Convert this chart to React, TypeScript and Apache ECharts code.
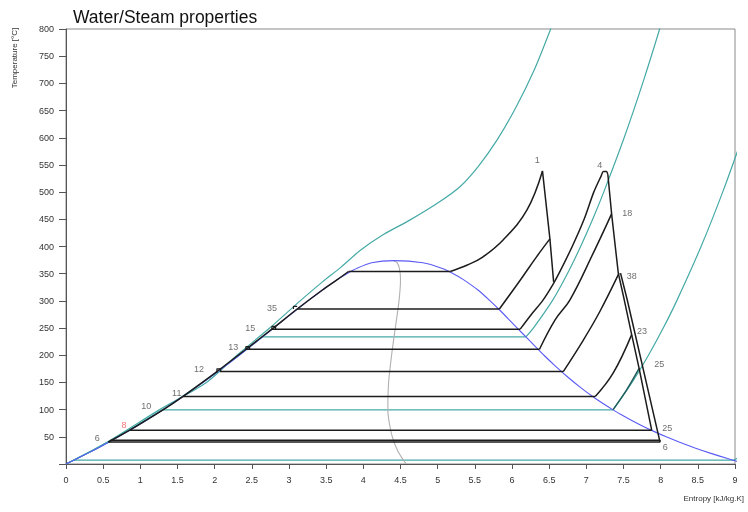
import React, { useEffect, useRef } from "react";
import * as echarts from "echarts";

// ---------- saturation dome (steam tables) ----------
const satT = [0.01, 5, 10, 20, 30, 40, 50, 60, 70, 80, 90, 100, 120, 140, 160, 180, 200, 220, 240, 260, 280, 300, 320, 340, 350, 360, 370, 373.95];
const satSf = [0, 0.0763, 0.1511, 0.2965, 0.4368, 0.5724, 0.7038, 0.8313, 0.9551, 1.0756, 1.1929, 1.3072, 1.5279, 1.7392, 1.9426, 2.1392, 2.3305, 2.5177, 2.702, 2.8849, 3.0685, 3.2552, 3.4494, 3.6601, 3.7784, 3.9167, 4.1112, 4.407];
const satSg = [9.1556, 9.0249, 8.8999, 8.6661, 8.452, 8.2557, 8.0748, 7.9081, 7.754, 7.6111, 7.4781, 7.3542, 7.1277, 6.9284, 6.7491, 6.5841, 6.4302, 6.2854, 6.1423, 5.9989, 5.8571, 5.7059, 5.5423, 5.3359, 5.2109, 5.0536, 4.8012, 4.407];

// quality x = 0.5 line
const qualityHalf = [[4.578, 0.01], [4.55, 5], [4.46, 25], [4.39, 50], [4.35, 75], [4.33, 100], [4.34, 150], [4.38, 200], [4.43, 250], [4.48, 300], [4.5, 340], [4.485, 360], [4.456, 370], [4.407, 373.95]];

// ---------- isobars (teal) ----------
const isobarSuper = [[0, 0], [0.55, 40], [1.26, 100], [1.89, 150], [2.3, 200], [2.74, 250], [3.15, 300], [3.45, 335], [3.7, 362], [3.96, 393], [4.27, 422], [4.63, 449], [4.99, 479], [5.3, 510], [5.55, 548], [5.8, 596], [6.05, 655], [6.3, 725], [6.52, 800], [6.53, 806]];
const isobar30Liquid = [[0, 0], [0.57, 40], [1.3, 100], [1.94, 160], [2.33, 200], [2.645, 233.9]];
const isobar30Sat = [[2.645, 233.9], [6.186, 233.9]];
const isobar30Vapor = [[6.186, 233.9], [6.2872, 250], [6.5412, 300], [6.7449, 350], [6.9233, 400], [7.0853, 450], [7.2338, 500], [7.5085, 600], [7.7571, 700], [7.9862, 800], [7.99, 805]];
const isobar1Liquid = [[0, 0], [0.57, 40], [1.3026, 99.6]];
const isobar1Sat = [[1.3026, 99.6], [7.3589, 99.6]];
const isobar1Vapor = [[7.3589, 99.6], [7.6148, 150], [7.8356, 200], [8.0346, 250], [8.2158, 300], [8.5435, 400], [8.8342, 500], [9.0976, 600]];
const isobar001 = [[0.1059, 6.97], [8.9749, 6.97], [9.05, 12]];

// ---------- cycle (black) ----------
const feedLine = [[0.57, 40.5], [0.84, 61], [1.31, 100], [1.57, 124], [2.03, 170], [2.42, 211], [2.77, 248], [3.11, 285], [3.45, 320], [3.66, 340], [3.8, 354]];
const satLines = [
  [[3.8, 354], [5.17, 354]],
  [[3.11, 285], [5.83, 285]],
  [[2.77, 248], [6.11, 248]],
  [[2.42, 211], [6.37, 211]],
  [[2.07, 170], [6.69, 170]],
  [[1.57, 124], [7.12, 124]],
  [[0.86, 62], [7.88, 62]],
];
const condenser = [[0.6, 43.5], [7.99, 43.5], [7.99, 40.5], [0.57, 40.5]];
const sup354 = [[5.17, 354], [5.4, 366], [5.6, 380], [5.88, 412], [6.2, 467], [6.41, 539]];
const sup285 = [[5.83, 285], [6.11, 338], [6.33, 381], [6.51, 414]];
const sup248 = [[6.11, 248], [6.26, 275], [6.41, 300], [6.55, 330], [6.63, 350], [6.81, 400], [6.97, 450], [7.1, 500], [7.2, 530], [7.23, 538], [7.27, 538], [7.29, 532]];
const sup211 = [[6.37, 211], [6.58, 265], [6.78, 302], [7.09, 387], [7.34, 460]];
const sup170 = [[6.69, 170], [6.96, 228], [7.18, 280], [7.44, 351]];
const sup124 = [[7.12, 124], [7.36, 167], [7.61, 238]];
const ext100 = [[7.36, 100], [7.54, 136], [7.71, 176]];
const turbineHP = [[6.41, 539], [6.51, 414], [6.56, 335]];
const turbineIP = [[7.29, 532], [7.34, 460], [7.43, 351]];
const turbineLPa = [[7.43, 351], [7.51, 302], [7.61, 238], [7.71, 176], [7.88, 62]];
const turbineLPb = [[7.46, 351], [7.55, 302], [7.99, 41]];
const steps = [
  [[2.03, 168], [2.03, 175], [2.08, 175], [2.08, 170]],
  [[2.42, 211], [2.42, 216], [2.47, 216], [2.47, 211]],
  [[2.77, 248], [2.77, 253], [2.82, 253], [2.82, 248]],
  [[3.06, 285], [3.06, 290], [3.11, 290]],
];

// ---------- state labels ----------
const pointNames = ["1", "4", "18", "38", "23", "25", "25", "6", "6", "8", "10", "11", "12", "13", "15", "35"];
const pointS = [6.34, 7.18, 7.55, 7.61, 7.75, 7.98, 8.09, 8.06, 0.42, 0.78, 1.08, 1.49, 1.79, 2.25, 2.48, 2.77];
const pointT = [559, 550, 462, 346, 245, 184, 66, 31, 48, 72, 107, 131, 175, 215, 250, 287];

const FONT = "Arial, 'Liberation Sans', sans-serif";

function line(data: number[][], color: string, width: number, z: number, smooth: number = 0) {
  return {
    type: "line",
    data,
    symbol: "none",
    silent: true,
    clip: true,
    smooth,
    lineStyle: { color, width },
    z,
  };
}

export default function App() {
  const ref = useRef<HTMLDivElement>(null);
  useEffect(() => {
    if (!ref.current) return;
    const chart = echarts.init(ref.current, undefined, { renderer: "svg" });
    const dome: number[][] = [];
    satT.forEach((t, i) => dome.push([satSf[i], t]));
    for (let i = satT.length - 2; i >= 0; i--) dome.push([satSg[i], satT[i]]);

    const teal = "#45aaa6";
    const black = "#1c1c1c";
    const W = 1.5;
    const series: any[] = [
      line(isobarSuper, teal, 1.2, 2, 0.25),
      line(isobar30Liquid, teal, 1.2, 2, 0.3),
      line(isobar30Sat, teal, 1.2, 2),
      line(isobar30Vapor, teal, 1.2, 2, 0.3),
      line(isobar1Liquid, teal, 1.2, 2, 0.3),
      line(isobar1Sat, teal, 1.2, 2),
      line(isobar1Vapor, teal, 1.2, 2, 0.3),
      line(isobar001, teal, 1.2, 2),
      line(qualityHalf, "#b0b0b0", 1.1, 3, 0.3),
      line(dome, "#5a5af5", 1.1, 4, 0.2),
      line(feedLine, black, W, 5, 0.2),
      ...satLines.map((d) => line(d, black, W, 5)),
      line(condenser, black, W, 5),
      line(sup354, black, W, 5, 0.4),
      line(sup285, black, W, 5, 0.4),
      line(sup248, black, W, 5, 0.3),
      line(sup211, black, W, 5, 0.4),
      line(sup170, black, W, 5, 0.4),
      line(sup124, black, W, 5, 0.4),
      line(ext100, "#235f5c", W, 5, 0.3),
      line(turbineHP, black, W, 5),
      line(turbineIP, black, W, 5),
      line(turbineLPa, black, W, 5),
      line(turbineLPb, black, W, 5),
      ...steps.map((d) => line(d, black, 1.2, 5)),
      {
        type: "scatter",
        silent: true,
        symbolSize: 1,
        itemStyle: { color: "rgba(0,0,0,0)" },
        z: 6,
        label: {
          show: true,
          position: "inside",
          formatter: (p: any) => p.name,
          fontSize: 9,
          fontFamily: FONT,
          color: "#4a4a4a",
        },
        data: pointNames.map((n, i) => ({
          name: n,
          value: [pointS[i], pointT[i]],
          label: n === "8" ? { color: "#f05050" } : undefined,
        })),
      },
    ];

    chart.setOption({
      animation: false,
      title: {
        text: "Water/Steam properties",
        left: 68,
        top: 3,
        textStyle: { fontSize: 17.5, fontWeight: "normal", color: "#111", fontFamily: FONT },
      },
      grid: {
        left: 66,
        right: 13,
        top: 29,
        bottom: 48,
        show: true,
        borderColor: "#8a8a8a",
        borderWidth: 1,
        backgroundColor: "transparent",
      },
      xAxis: {
        type: "value",
        min: 0,
        max: 9,
        interval: 0.5,
        axisLine: { show: true, lineStyle: { color: "#555" } },
        axisTick: { show: true, length: 5, lineStyle: { color: "#555" } },
        splitLine: { show: false },
        axisLabel: { fontSize: 9, color: "#333", fontFamily: FONT, margin: 11 },
      },
      yAxis: {
        type: "value",
        min: 0,
        max: 800,
        interval: 50,
        axisLine: { show: true, lineStyle: { color: "#555" } },
        axisTick: { show: true, length: 7, lineStyle: { color: "#555" } },
        splitLine: { show: false },
        axisLabel: {
          fontSize: 9,
          color: "#333",
          fontFamily: FONT,
          margin: 12,
          formatter: (v: number) => (v === 0 ? "" : String(v)),
        },
      },
      graphic: [
        {
          type: "text",
          x: 14,
          y: 58,
          rotation: Math.PI / 2,
          style: {
            text: "Temperature [°C]",
            fontSize: 8,
            fontFamily: FONT,
            fill: "#333",
            align: "center",
            verticalAlign: "middle",
          },
        },
        {
          type: "text",
          x: 744,
          y: 498,
          style: {
            text: "Entropy [kJ/kg.K]",
            fontSize: 8,
            fontFamily: FONT,
            fill: "#333",
            align: "right",
            verticalAlign: "middle",
          },
        },
      ],
      series,
    });
    return () => chart.dispose();
  }, []);
  return (
    <div
      ref={ref}
      style={{ position: "fixed", left: 0, top: 0, width: 748, height: 512 }}
    />
  );
}
